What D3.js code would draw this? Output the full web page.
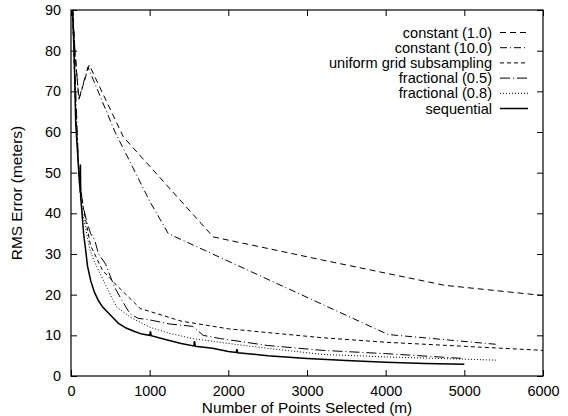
<!DOCTYPE html>
<html>
<head>
<meta charset="utf-8">
<script src="https://cdn.jsdelivr.net/npm/d3@7"></script>
<style>
  body { margin: 0; background: #fff; }
  svg text { font-family: "Liberation Sans", Arial, Helvetica, sans-serif; font-size: 15.4px; fill: #000; }
  .legend text { font-size: 14.6px; }
</style>
</head>
<body>
<div id="chart"></div>
<script>
// series: [points selected m, RMS error]
var constant1 = [[10, 95], [50, 80], [100, 68], [232, 76.5], [665, 58.8], [1808, 34.2], [3200, 28.5], [4750, 22.3], [6000, 19.8]];
var constant10 = [[10, 95], [50, 80], [100, 68], [215, 76], [560, 60], [1000, 43], [1237, 35], [4030, 10.2], [5400, 7.8]];
var uniformGrid = [[10, 95], [60, 65], [100, 50], [150, 42], [250, 32], [400, 26], [580, 22.3], [880, 16.6], [1400, 13.5], [2000, 11.6], [3200, 9.4], [4000, 8.3], [6000, 6.3]];
var fractional05 = [[10, 95], [60, 70], [100, 50], [150, 42], [200, 38], [250, 35], [300, 33.5], [350, 30], [440, 27.5], [550, 22], [650, 18.5], [750, 15.3], [850, 14.2], [1000, 13.8], [1250, 12.8], [1550, 12.2], [1680, 10], [1900, 9.2], [2500, 7.5], [3200, 6.3], [4000, 5.5], [5000, 4.3]];
var fractional08 = [[10, 95], [60, 65], [100, 48], [150, 40], [240, 31], [300, 28], [400, 24], [500, 20], [580, 17], [750, 14.5], [1000, 12], [1250, 10.5], [1550, 9.2], [2000, 8], [2500, 6.8], [3200, 5.3], [4000, 4.7], [5400, 3.9]];
var sequential = [[10, 95], [40, 80], [60, 62], [80, 56], [100, 50], [118, 45], [120, 52], [123, 44], [140, 40], [160, 35], [180, 32], [210, 27], [250, 23.5], [300, 20.5], [350, 18.5], [400, 17], [500, 15], [600, 13], [700, 11.8], [800, 11], [900, 10.3], [1000, 10], [1010, 11], [1020, 9.9], [1200, 9], [1400, 8], [1560, 7.4], [1570, 8.6], [1580, 7.3], [1800, 6.8], [2000, 6], [2100, 5.8], [2110, 6.6], [2120, 5.7], [2500, 5], [3000, 4.3], [3500, 3.8], [4000, 3.4], [4500, 3.1], [5000, 2.9]];

var seriesNames = ["constant (1.0)", "constant (10.0)", "uniform grid subsampling", "fractional (0.5)", "fractional (0.8)", "sequential"];
var seriesData = [constant1, constant10, uniformGrid, fractional05, fractional08, sequential];
var dashes = ["6,4", "7,3,1,3", "4,3", "10,3,1,3", "1,2", null];

var xTicks = [0, 1000, 2000, 3000, 4000, 5000, 6000];
var yTicks = [0, 10, 20, 30, 40, 50, 60, 70, 80, 90];

var margin = {top: 10, right: 25, bottom: 40, left: 71};
var width = 568 - margin.left - margin.right;
var height = 416 - margin.top - margin.bottom;

var svg = d3.select("#chart").append("svg")
    .attr("width", 568)
    .attr("height", 416)
    .append("g")
    .attr("transform", "translate(" + margin.left + "," + margin.top + ")");

var x = d3.scaleLinear().domain([0, 6000]).range([0, width]);
var y = d3.scaleLinear().domain([0, 90]).range([height, 0]);

svg.append("clipPath").attr("id", "clip")
    .append("rect").attr("width", width).attr("height", height);

// axes with inward ticks on all four sides
svg.append("g")
    .attr("transform", "translate(0," + height + ")")
    .call(d3.axisBottom(x).tickValues(xTicks).tickSizeInner(-6).tickSizeOuter(0).tickPadding(10).tickFormat(d3.format("d")))
    .call(g => g.select(".domain").remove());
svg.append("g")
    .call(d3.axisTop(x).tickValues(xTicks).tickSizeInner(-6).tickSizeOuter(0).tickFormat(""))
    .call(g => g.select(".domain").remove());
svg.append("g")
    .call(d3.axisLeft(y).tickValues(yTicks).tickSizeInner(-6).tickSizeOuter(0).tickPadding(10))
    .call(g => g.select(".domain").remove());
svg.append("g")
    .attr("transform", "translate(" + width + ",0)")
    .call(d3.axisRight(y).tickValues(yTicks).tickSizeInner(-6).tickSizeOuter(0).tickFormat(""))
    .call(g => g.select(".domain").remove());

svg.selectAll(".tick text").style("font-size", "14.4px").style("font-family", "Liberation Sans, Arial, sans-serif");

var line = d3.line().x(d => x(d[0])).y(d => y(d[1]));

svg.append("g").attr("clip-path", "url(#clip)")
    .selectAll("path")
    .data(seriesData)
    .enter().append("path")
    .attr("d", d => line(d))
    .attr("fill", "none")
    .attr("stroke", "#000")
    .attr("stroke-width", (d, i) => i == 5 ? 1.5 : 1)
    .attr("stroke-dasharray", (d, i) => dashes[i]);

svg.append("rect")
    .attr("width", width).attr("height", height)
    .attr("fill", "none").attr("stroke", "#000").attr("stroke-width", 1.2);

// legend
var legend = svg.append("g").attr("class", "legend")
    .attr("transform", "translate(" + (492 - margin.left) + "," + (32.5 - margin.top) + ")");
seriesNames.forEach(function(name, i) {
    var row = legend.append("g").attr("transform", "translate(0," + (i * 15.2) + ")");
    row.append("text").attr("x", 0).attr("y", 5).attr("text-anchor", "end").text(name);
    row.append("line")
        .attr("x1", 8).attr("x2", 36).attr("y1", 0).attr("y2", 0)
        .attr("stroke", "#000")
        .attr("stroke-width", i == 5 ? 1.5 : 1)
        .attr("stroke-dasharray", dashes[i]);
});

svg.append("text")
    .attr("x", width / 2).attr("y", height + 37)
    .attr("text-anchor", "middle")
    .text("Number of Points Selected (m)");
svg.append("text")
    .attr("transform", "translate(" + (-49) + "," + (height / 2) + ") rotate(-90)")
    .attr("text-anchor", "middle")
    .text("RMS Error (meters)");
</script>
</body>
</html>
